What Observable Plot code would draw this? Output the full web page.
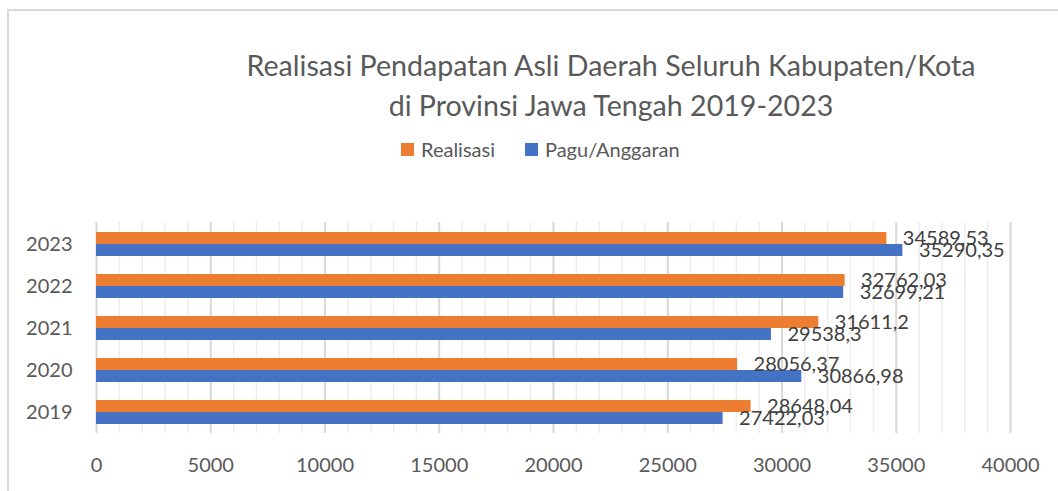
<!DOCTYPE html>
<html>
<head>
<meta charset="utf-8">
<script src="https://cdn.jsdelivr.net/npm/d3@7"></script>
<script src="https://cdn.jsdelivr.net/npm/@observablehq/plot@0.6"></script>
<style>
  html, body { margin: 0; padding: 0; background: #fff; overflow: hidden; }
  body { width: 1058px; height: 491px; position: relative; font-family: Lato, "Open Sans", sans-serif; }
  #frame { position: absolute; left: 7px; top: 9px; width: 1300px; height: 700px;
           border-top: 2px solid #d9d9d9; border-left: 2px solid #d9d9d9; box-sizing: border-box; }
  #header { position: relative; height: 170px; }
  .title { position: absolute; left: 0; width: 1222px; text-align: center; color: #595959;
           font-size: 28.6px; line-height: 40px; font-weight: 400; white-space: nowrap; }
  #legend { position: absolute; left: 401px; top: 136px; height: 26px; display: flex; align-items: center;
            color: #595959; font-size: 20px; }
  .sw { width: 13px; height: 13px; display: inline-block; margin-right: 7px; }
  .item { display: flex; align-items: center; margin-right: 30px; }
  #chart { position: relative; }
</style>
</head>
<body>
<div id="frame"></div>
<div id="header">
  <div class="title" style="top:45px">Realisasi Pendapatan Asli Daerah Seluruh Kabupaten/Kota</div>
  <div class="title" style="top:85px">di Provinsi Jawa Tengah 2019-2023</div>
  <div id="legend"></div>
</div>
<div id="chart"></div>
<script>
const years = ["2019", "2020", "2021", "2022", "2023"];
const realisasi = [28648.04, 28056.37, 31611.2, 32762.03, 34589.53];
const pagu = [27422.03, 30866.98, 29538.3, 32699.21, 35290.35];
const seriesNames = ["Realisasi", "Pagu/Anggaran"];
const seriesColors = ["#ED7D31", "#4472C4"];
const xTicks = [0, 5000, 10000, 15000, 20000, 25000, 30000, 35000, 40000];
const minorTicks = d3.range(0, 40001, 1000);

const rows = years.map((y, i) => ({year: y, realisasi: realisasi[i], pagu: pagu[i]}));
const fmt = v => String(v).replace(".", ",");

// legend
const leg = document.getElementById("legend");
seriesNames.forEach((n, i) => {
  const it = document.createElement("div");
  it.className = "item";
  it.innerHTML = `<span class="sw" style="background:${seriesColors[i]}"></span><span>${n}</span>`;
  leg.appendChild(it);
});

const half = 12;
const chart = Plot.plot({
  width: 1058,
  height: 321,
  marginTop: 52,
  marginBottom: 58,
  marginLeft: 96,
  marginRight: 48,
  style: {fontFamily: "Lato, 'Open Sans', sans-serif", fontSize: "20px", color: "#595959", background: "transparent"},
  x: {domain: [0, 40000], ticks: xTicks, tickFormat: d => String(d), tickSize: 0, tickPadding: 24, label: null},
  y: {domain: [...years].reverse(), type: "band", paddingInner: 0.433, paddingOuter: 0.21, tickSize: 0, tickPadding: 24, label: null},
  marks: [
    Plot.ruleX(minorTicks, {stroke: "#ededed", strokeWidth: 1.5}),
    Plot.ruleX(xTicks, {stroke: "#d9d9d9", strokeWidth: 2}),
    Plot.barX(rows, {x: "realisasi", y: "year", fill: seriesColors[0], insetBottom: half}),
    Plot.barX(rows, {x: "pagu", y: "year", fill: seriesColors[1], insetTop: half}),
    Plot.text(rows, {x: "realisasi", y: "year", text: d => fmt(d.realisasi), dx: 16, dy: -6, textAnchor: "start", fill: "#404040", fontSize: 20}),
    Plot.text(rows, {x: "pagu", y: "year", text: d => fmt(d.pagu), dx: 16, dy: 6, textAnchor: "start", fill: "#404040", fontSize: 20})
  ]
});
document.getElementById("chart").appendChild(chart);
</script>
</body>
</html>
